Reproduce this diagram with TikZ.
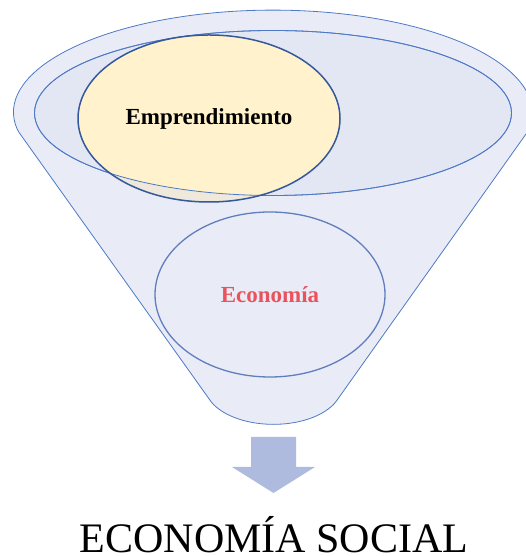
\documentclass[tikz,border=0pt]{standalone}
\usepackage{fontspec}
\setmainfont{Liberation Serif}
\usetikzlibrary{shapes.geometric}

\definecolor{funnelfill}{RGB}{233,236,246}
\definecolor{rimfill}{RGB}{227,230,243}
\definecolor{funnelblue}{RGB}{78,121,198}
\definecolor{ecoblue}{RGB}{96,125,190}
\definecolor{ecored}{RGB}{232,84,94}
\definecolor{emprfill}{RGB}{255,242,204}
\definecolor{emprshade}{RGB}{238,233,218}
\definecolor{emprblue}{RGB}{52,88,155}
\definecolor{arrowfill}{RGB}{174,187,222}

\begin{document}
\begin{tikzpicture}[x=1pt,y=1pt,
        funnelline/.style={draw=funnelblue, line width=0.8pt},
        labeltext/.style={font=\fontsize{23}{28}\selectfont\bfseries}]
                \useasboundingbox (0,0) rectangle (525,556);

                \coordinate (topleft) at (18,425);
                \coordinate (botright) at (335,153);
                \coordinate (botleft) at (212,153);
                \coordinate (rim) at (273,443);
                \coordinate (ec) at (270,261.5);
                \coordinate (em) at (209,437.5);

                \filldraw[fill=funnelfill, funnelline, rounded corners=2pt] (topleft)
                    arc[start angle=190, end angle=-10, x radius=259pt, y radius=103pt]
                    -- (botright)
                    .. controls (307,125) and (240,125) .. (botleft)
                    -- cycle;
                \filldraw[fill=rimfill, funnelline] (rim) ellipse [x radius=238.5pt, y radius=82.5pt];

                \node[ellipse, draw=ecoblue, line width=1.3pt, fill=funnelfill, minimum width=230pt, minimum height=165pt, labeltext, text=ecored] (econ) at (ec) {Economía};

                \fill[emprshade] (em) ellipse [x radius=131pt, y radius=83.5pt];
                \begin{scope}
                    \clip (rim) ellipse [x radius=238.5pt, y radius=82.5pt];
                    \fill[emprfill] (em) ellipse [x radius=131pt, y radius=83.5pt];
                \end{scope}
                \draw[funnelline] (rim) ellipse [x radius=238.5pt, y radius=82.5pt];

                \node[ellipse, draw=emprblue, line width=1.5pt, minimum width=262pt, minimum height=167pt, labeltext] (empr) at (em) {Emprendimiento};

                \fill[arrowfill] (251,119) -- (296,119) -- (296,89) -- (315,89) -- (273.5,63) -- (232,89) -- (251,89) -- cycle;

                \node[anchor=base, inner sep=0pt, text depth=0pt, font=\fontsize{42}{48}\selectfont] (title) at (274,4) {ECONOMÍA SOCIAL};
    \end{tikzpicture}
\end{document}
